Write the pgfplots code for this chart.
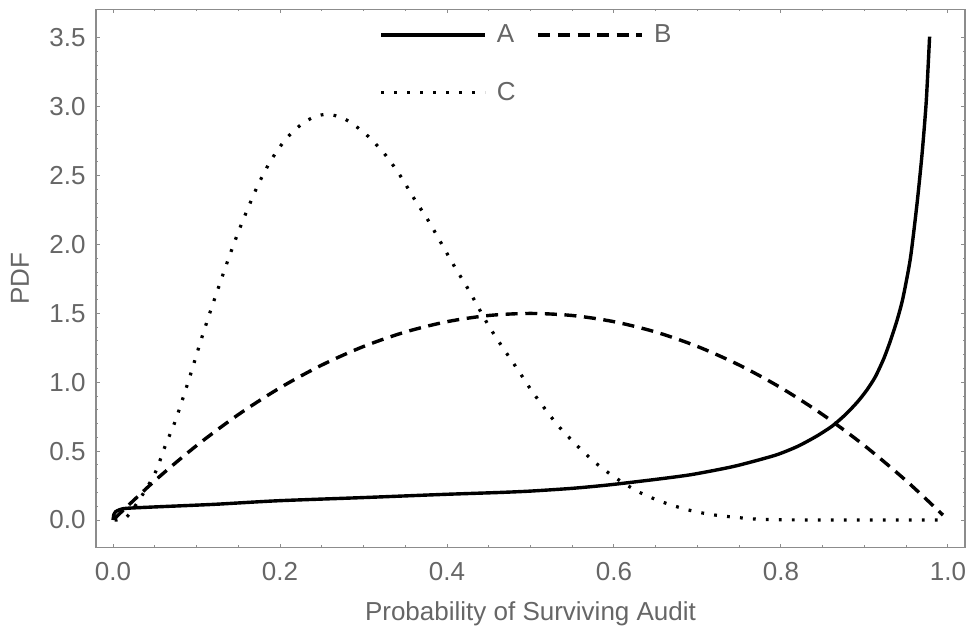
\documentclass[border=0pt]{standalone}
\usepackage{fontspec}
\setmainfont{Liberation Sans}
\usepackage{pgfplots}
\pgfplotsset{compat=1.18}
\definecolor{labelgray}{HTML}{666666}
\definecolor{framegray}{HTML}{8C8C8C}

\begin{document}
\begin{tikzpicture}
\begin{axis}[
  scale only axis, width=434.5pt, height=268.9pt,
  xmin=-0.0204, xmax=1.0204, ymin=-0.198, ymax=3.707,
  xtick={0,0.2,0.4,0.6,0.8,1}, ytick={0,0.5,1,1.5,2,2.5,3,3.5},
  minor x tick num=3, minor y tick num=4,
  tick align=inside, major tick length=1.8pt, minor tick length=1pt,
  axis line style={framegray, line width=0.6pt},
  tick style={framegray, line width=0.5pt},
  xticklabel pos=lower, yticklabel pos=left,
  /pgf/number format/.cd, fixed, fixed zerofill, precision=1, assume math mode=true,
  /pgfplots/.cd,
  tick label style={font=\fontsize{13}{15}\selectfont, text=labelgray, inner sep=0pt},
  xticklabel style={anchor=base, yshift=-16.5pt},
  yticklabel style={anchor=east, xshift=-5pt},
  xlabel={Probability of Surviving Audit}, ylabel={PDF},
  label style={font=\fontsize{13}{15}\selectfont, text=labelgray, inner sep=0pt},
  xlabel style={at={(axis description cs:0.5,0)}, anchor=base, yshift=-36.7pt},
  ylabel style={at={(axis description cs:-0.0875,0.5)}, anchor=center},
  legend columns=2,
  legend image code/.code={\draw[#1] (0pt,0pt) -- (52pt,0pt);},
  legend style={draw=none, fill=none, at={(axis description cs:0.3257,0.973)}, anchor=north west,
    inner sep=0pt, font=\fontsize{13}{15}\selectfont, text=labelgray,
    nodes={inner sep=0pt}, row sep=18.5pt,
    /tikz/every odd column/.append style={column sep=5pt},
    /tikz/every even column/.append style={column sep=10.5pt}},
  legend cell align=left,
]
% A
\addplot[black, line width=1.7pt, line join=round, smooth, tension=0.4] coordinates {
(0,0) (0.001,0.04) (0.003,0.06) (0.008,0.075) (0.016,0.085) (0.05,0.095) (0.1,0.108)
(0.128,0.116) (0.198,0.14) (0.3,0.163) (0.396,0.186) (0.463,0.2) (0.5,0.21)
(0.55,0.23) (0.594,0.255) (0.65,0.295) (0.693,0.33) (0.744,0.39) (0.793,0.47)
(0.82,0.535) (0.843,0.61) (0.862,0.685) (0.878,0.77) (0.892,0.86) (0.903,0.945)
(0.913,1.04) (0.923,1.17) (0.931,1.3) (0.939,1.45) (0.946,1.61) (0.955,1.9)
(0.963,2.3) (0.969,2.66) (0.974,3.04) (0.978,3.51)};
\addlegendentry{A}
% B
\addplot[black, line width=1.7pt, dash pattern=on 6pt off 3.8pt, smooth] coordinates {
(0.002,0.012) (0.05,0.285) (0.1,0.54) (0.15,0.765) (0.2,0.96) (0.25,1.125) (0.3,1.26)
(0.35,1.365) (0.4,1.44) (0.45,1.485) (0.5,1.5) (0.55,1.485) (0.6,1.44) (0.65,1.365)
(0.7,1.26) (0.75,1.125) (0.8,0.96) (0.85,0.765) (0.9,0.54) (0.95,0.285) (0.994,0.036)};
\addlegendentry{B}
% C
\addplot[black, line width=1.6pt, dash pattern=on 1.4pt off 5.1pt, smooth] coordinates {
(0.002,0) (0.016,0.02) (0.036,0.19) (0.051,0.35) (0.062,0.53) (0.074,0.71) (0.084,0.89)
(0.094,1.08) (0.103,1.26) (0.113,1.45) (0.123,1.63) (0.139,1.91) (0.150,2.09)
(0.162,2.27) (0.175,2.45) (0.190,2.62) (0.209,2.78) (0.232,2.90) (0.255,2.946)
(0.278,2.91) (0.303,2.80) (0.325,2.66) (0.344,2.50) (0.361,2.33) (0.378,2.17)
(0.394,2.00) (0.410,1.83) (0.426,1.67) (0.449,1.42) (0.467,1.25) (0.485,1.09)
(0.503,0.925) (0.531,0.70) (0.553,0.557) (0.577,0.42) (0.601,0.31) (0.629,0.206)
(0.657,0.133) (0.689,0.073) (0.721,0.036) (0.769,0.007) (0.8,0.002) (0.85,0)
(0.994,0)};
\addlegendentry{C}
\end{axis}
\pgfresetboundingbox
\path ([xshift=-48pt,yshift=-40.35pt]current axis.south west)
  rectangle ([xshift=2.5pt,yshift=4.75pt]current axis.north east);
\end{tikzpicture}
\end{document}
